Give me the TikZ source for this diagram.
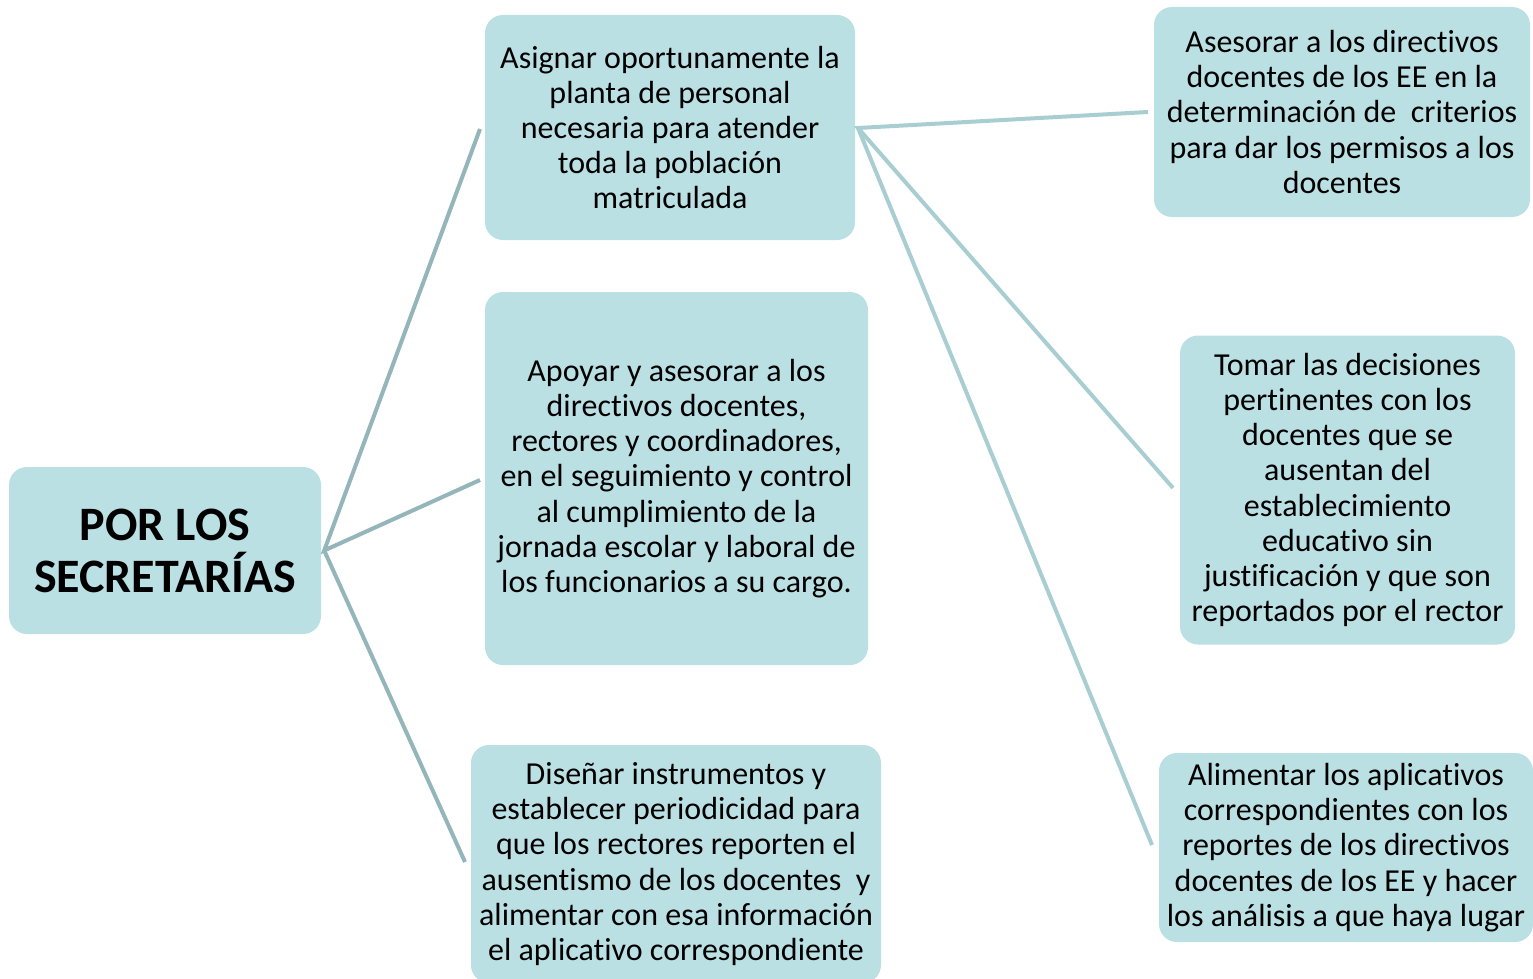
\documentclass[tikz,border=0pt]{standalone}
\usepackage{fontspec}
\setmainfont{Carlito}[Ligatures={NoCommon,NoContextual}, RawFeature={-liga;-clig;-calt}]
\definecolor{boxfill}{HTML}{BAE0E4}
\definecolor{lineL}{HTML}{94B6BA}
\definecolor{lineR}{HTML}{A9CED2}
\tikzset{
  box/.style={fill=boxfill, rounded corners=18pt, align=center, inner sep=0pt,
    font=\fontsize{32}{35.2}\selectfont},
  rootbox/.style={box, font=\fontsize{48}{52}\selectfont\bfseries},
  linkL/.style={draw=lineL, line width=4pt},
  linkR/.style={draw=lineR, line width=4pt},
}
\begin{document}
\begin{tikzpicture}[x=1pt,y=-1pt]
\clip (0,0) rectangle (1533,979);
\fill[white] (0,0) rectangle (1533,979);

\node[rootbox, minimum width=312pt, minimum height=167pt] (root) at (165,550.5) {POR LOS\\SECRETARÍAS};

\node[box, minimum width=370pt, minimum height=225pt] (a1) at (670,127.5)
  {Asignar oportunamente la\\planta de personal\\necesaria para atender\\toda la población\\matriculada};
\node[box, minimum width=383pt, minimum height=373pt] (a2) at (676.5,478.5)
  {Apoyar y asesorar a los\\directivos docentes,\\rectores y coordinadores,\\en el seguimiento y control\\al cumplimiento de la\\jornada escolar y laboral de\\los funcionarios a su cargo.};
\node[box, minimum width=410pt, minimum height=238pt] (a3) at (676,864)
  {Diseñar instrumentos y\\establecer periodicidad para\\que los rectores reporten el\\ausentismo de los docentes\ \ y\\alimentar con esa información\\el aplicativo correspondiente};

\node[box, minimum width=376pt, minimum height=210pt] (b1) at (1342,112)
  {Asesorar a los directivos\\docentes de los EE en la\\determinación de\ \ criterios\\para dar los permisos a los\\docentes};
\node[box, minimum width=335pt, minimum height=309pt] (b2) at (1347.5,490)
  {Tomar las decisiones\\pertinentes con los\\docentes que se\\ausentan del\\establecimiento\\educativo sin\\justificación y que son\\reportados por el rector};
\node[box, minimum width=374pt, minimum height=189pt] (b3) at (1346,847.5)
  {Alimentar los aplicativos\\correspondientes con los\\reportes de los directivos\\docentes de los EE y hacer\\los análisis a que haya lugar};

\coordinate (r0) at ([xshift=3pt]root.east);
\coordinate (e1) at (480,129);
\coordinate (e2) at (480,480);
\coordinate (e3) at (465,862);
\draw[linkL] (e1) -- (r0) -- (e2);
\draw[linkL] (r0) -- (e3);

\coordinate (s0) at (858,128);
\coordinate (f1) at (1148,112);
\coordinate (f2) at (1173,488);
\coordinate (f3) at (1152,845);
\draw[linkR] (f1) -- (s0) -- (f2);
\draw[linkR] (s0) -- (f3);
\end{tikzpicture}
\end{document}
